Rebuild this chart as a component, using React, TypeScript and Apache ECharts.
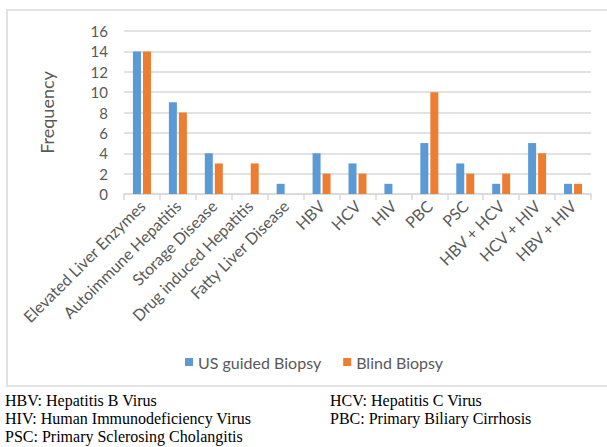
import React, { useEffect, useRef } from "react";
import * as echarts from "echarts";

const categories = [
  "Elevated Liver Enzymes",
  "Autoimmune Hepatitis",
  "Storage Disease",
  "Drug induced Hepatitis",
  "Fatty Liver Disease",
  "HBV",
  "HCV",
  "HIV",
  "PBC",
  "PSC",
  "HBV + HCV",
  "HCV + HIV",
  "HBV + HIV",
];
const usGuided = [14, 9, 4, 0, 1, 4, 3, 1, 5, 3, 1, 5, 1];
const blind = [14, 8, 3, 3, 0, 2, 2, 0, 10, 2, 2, 4, 1];
const footnotes = [
  ["HBV: Hepatitis B Virus", "HCV: Hepatitis C Virus"],
  ["HIV: Human Immunodeficiency Virus", "PBC: Primary Biliary Cirrhosis"],
  ["PSC: Primary Sclerosing Cholangitis", ""],
];

const FONT = "Lato";
const TEXT = "#595959";

export default function App() {
  const ref = useRef<HTMLDivElement>(null);
  useEffect(() => {
    if (!ref.current) return;
    const chart = echarts.init(ref.current, null, { renderer: "svg" });
    const graphics: any[] = [
      {
        type: "rect",
        shape: { x: 7, y: 10, width: 620, height: 376 },
        style: { fill: "none", stroke: "#d9d9d9", lineWidth: 1.5 },
        silent: true,
      },
    ];
    footnotes.forEach((row, i) => {
      row.forEach((t, j) => {
        if (!t) return;
        graphics.push({
          type: "text",
          x: j === 0 ? 5 : 330,
          y: 400 + i * 18,
          style: {
            text: t,
            fill: "#000",
            font: "16px 'Liberation Serif', 'Times New Roman', serif",
            verticalAlign: "middle",
          },
        });
      });
    });
    chart.setOption({
      animation: false,
      textStyle: { fontFamily: FONT },
      graphic: graphics,
      grid: { left: 124, right: 16, top: 31, bottom: 253 },
      legend: {
        data: ["US guided Biopsy", "Blind Biopsy"],
        left: 180,
        top: 349,
        itemWidth: 8,
        itemHeight: 8,
        itemGap: 22,
        icon: "rect",
        textStyle: { fontSize: 16, color: TEXT, fontFamily: FONT },
      },
      xAxis: {
        type: "category",
        data: categories,
        axisLine: { lineStyle: { color: "#d9d9d9", width: 1.5 } },
        axisTick: { show: true, length: 6, lineStyle: { color: "#d9d9d9", width: 1.5 } },
        axisLabel: {
          rotate: 45,
          interval: 0,
          fontSize: 16,
          color: TEXT,
          fontFamily: FONT,
          margin: 9,
        },
      },
      yAxis: {
        type: "value",
        min: 0,
        max: 16,
        interval: 2,
        name: "Frequency",
        nameLocation: "middle",
        nameGap: 68,
        nameTextStyle: { fontSize: 18, color: TEXT, fontFamily: FONT },
        axisLine: { show: false },
        axisTick: { show: false },
        axisLabel: { fontSize: 15, color: TEXT, fontFamily: FONT, margin: 16 },
        splitLine: { lineStyle: { color: "#d9d9d9", width: 1.5 } },
      },
      series: [
        {
          name: "US guided Biopsy",
          type: "bar",
          data: usGuided,
          barWidth: 8,
          barGap: "25%",
          itemStyle: { color: "#5b9bd5" },
        },
        {
          name: "Blind Biopsy",
          type: "bar",
          data: blind,
          barWidth: 8,
          itemStyle: { color: "#ed7d31" },
        },
      ],
    });
    return () => chart.dispose();
  }, []);
  return (
    <div
      ref={ref}
      style={{ position: "absolute", left: 0, top: 0, width: 607, height: 447, background: "#fff" }}
    />
  );
}
